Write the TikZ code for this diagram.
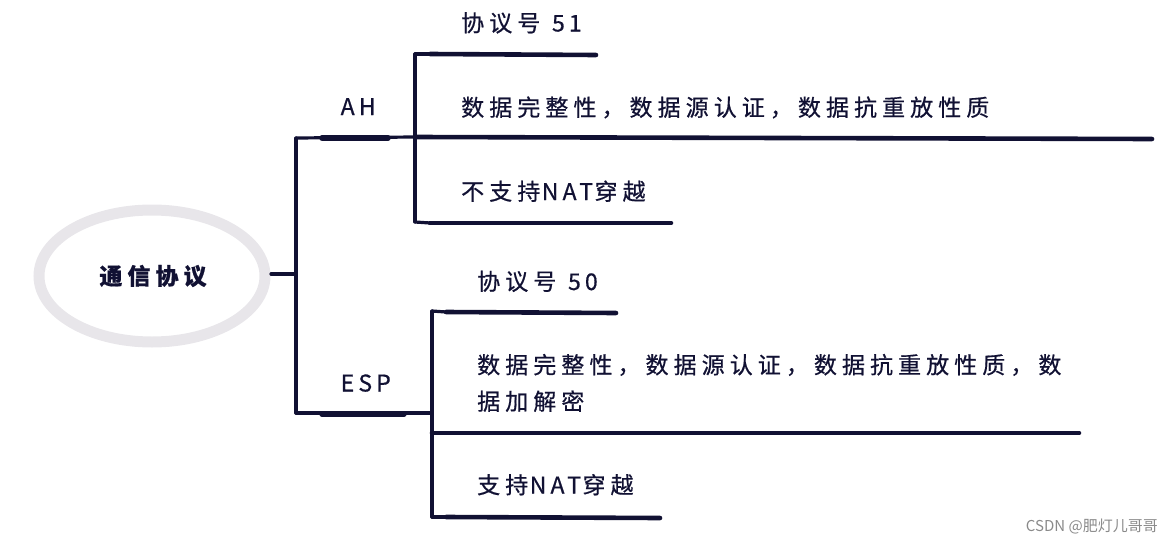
\documentclass[tikz,border=0pt]{standalone}
\usepackage{fontspec}
\setmainfont{Noto Sans CJK SC}[LetterSpace=22,FakeBold=0.6]
\newfontfamily\wmfont{Noto Sans CJK SC}
\newfontfamily\latfont{Noto Sans CJK SC}[LetterSpace=18,FakeBold=0.6]
\newcommand{\lat}[1]{{\latfont\kern1.5pt#1\kern1.5pt}}
\definecolor{ink}{HTML}{111133}
\definecolor{ring}{HTML}{E8E6EA}
\definecolor{wm}{HTML}{8A8A8A}
\begin{document}
\begin{tikzpicture}[x=1pt,y=-1pt,
  lbl/.style={anchor=base west,inner sep=0pt,text=ink,font=\fontsize{23}{36.5}\selectfont,align=left},
  rootlbl/.style={inner sep=0pt,text=ink,font=\fontsize{23}{26}\bfseries\selectfont},
  conn/.style={draw=ink,line width=3.2pt,line cap=round,line join=round},
  leaf/.style={draw=ink,line width=4.6pt,line cap=round},
  under/.style={draw=ink,line width=5.5pt,line cap=round}]
\useasboundingbox (0,0) rectangle (1172,546);
% root
\draw[ring,line width=11pt] (152,276) ellipse [x radius=113, y radius=66];
\node[rootlbl] (root) at (153,276) {通信协议};
\coordinate (rootR) at (271,274);
\coordinate (trunkT) at (296,138);
\coordinate (trunkM) at (296,274);
\coordinate (trunkB) at (296,413);
\draw[conn] (rootR) -- (trunkM);
\draw[conn] (trunkT) -- (trunkB);
% AH
\node[lbl] (ah) at (339,115) {\lat{AH}};
\coordinate (ahL) at (322,138);
\coordinate (ahR) at (388,138);
\coordinate (ahJ) at (415,137);
\draw[conn] (trunkT) -- (ahJ);
\draw[under] (ahL) -- (ahR);
\coordinate (ahT) at (415,54);
\coordinate (ahB) at (415,222);
\draw[conn] (ahT) -- (ahB);
\node[lbl] (a1) at (461,31.5) {协议号 \lat{51}};
\node[lbl] (a2) at (461,116) {数据完整性，数据源认证，数据抗重放性质};
\node[lbl] (a3) at (461,200) {不支持\lat{NAT}穿越};
\coordinate (a1e) at (596,55);
\coordinate (a2e) at (1152,139);
\coordinate (a3e) at (671,223);
\draw[conn] (ahT) -- (430,54);
\draw[leaf] (430,54) -- (a1e);
\draw[leaf] (ahJ) -- (a2e);
\draw[conn] (ahB) -- (430,223);
\draw[leaf] (430,223) -- (a3e);
% ESP
\node[lbl] (esp) at (339,391.5) {\lat{ESP}};
\coordinate (espL) at (322,414);
\coordinate (espR) at (404,414);
\coordinate (espJ) at (432,413);
\draw[conn] (trunkB) -- (espJ);
\draw[under] (espL) -- (espR);
\coordinate (espT) at (432,311);
\coordinate (espB) at (432,517);
\draw[conn] (espT) -- (espB);
\node[lbl] (e1) at (477,290) {协议号 \lat{50}};
\node[lbl] (e2) at (477,410) {数据完整性，数据源认证，数据抗重放性质，数\\据加解密};
\node[lbl] (e3) at (477,493.5) {支持\lat{NAT}穿越};
\coordinate (e1e) at (616,313);
\coordinate (e2e) at (1079,433);
\coordinate (e3e) at (660,518);
\coordinate (espM) at (432,433);
\draw[conn] (espT) -- (446,312);
\draw[leaf] (446,312) -- (e1e);
\draw[leaf] (espM) -- (e2e);
\draw[conn] (espB) -- (446,517);
\draw[leaf] (446,517) -- (e3e);
% watermark
\node[anchor=east,inner sep=0pt,text=wm,font=\wmfont\fontsize{15}{18}\selectfont] (wmk) at (1158,527) {CSDN @肥灯儿哥哥};
\end{tikzpicture}
\end{document}
